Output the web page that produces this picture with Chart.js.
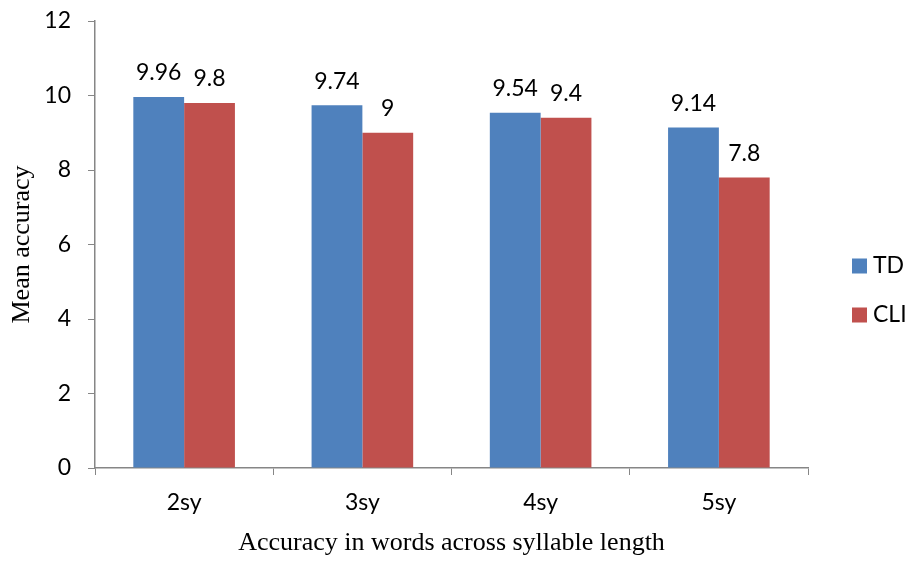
<!DOCTYPE html>
<html>
<head>
<meta charset="utf-8">
<script src="https://cdn.jsdelivr.net/npm/chart.js@4"></script>
<style>
  html, body { margin: 0; padding: 0; background: #fff; }
  #wrap { width: 907px; height: 561px; position: relative; }
</style>
</head>
<body>
<div id="wrap"><canvas id="accChart"></canvas></div>
<script>
// data
const categories = ['2sy', '3sy', '4sy', '5sy'];
const tdValues = [9.96, 9.74, 9.54, 9.14];
const cliValues = [9.8, 9.0, 9.4, 7.8];
const yTicks = [0, 2, 4, 6, 8, 10, 12];

const sansFont = "Lato, 'Open Sans', sans-serif";
const serifFont = "'Liberation Serif', 'DejaVu Serif', serif";
const axisGray = '#868686';
const textSize = 23;

// value labels above each bar
const valueLabels = {
  id: 'valueLabels',
  afterDatasetsDraw(chart) {
    const ctx = chart.ctx;
    ctx.save();
    ctx.font = textSize + 'px ' + sansFont;
    ctx.fillStyle = '#000';
    ctx.textAlign = 'center';
    ctx.textBaseline = 'middle';
    chart.data.datasets.forEach((ds, i) => {
      chart.getDatasetMeta(i).data.forEach((bar, j) => {
        ctx.fillText(String(ds.data[j]), bar.x, bar.y - 24);
      });
    });
    ctx.restore();
  }
};

// legend on the right, like the original
const sideLegend = {
  id: 'sideLegend',
  afterDraw(chart) {
    const ctx = chart.ctx;
    ctx.save();
    ctx.font = textSize + 'px ' + sansFont;
    ctx.textBaseline = 'middle';
    ctx.textAlign = 'left';
    chart.data.datasets.forEach((ds, i) => {
      const cy = 266 + i * 49;
      ctx.fillStyle = ds.backgroundColor;
      ctx.fillRect(852, cy - 7.5, 15, 15);
      ctx.fillStyle = '#000';
      ctx.fillText(ds.label, 873, cy);
    });
    ctx.restore();
  }
};

new Chart(document.getElementById('accChart'), {
  type: 'bar',
  data: {
    labels: categories,
    datasets: [
      { label: 'TD', data: tdValues, backgroundColor: '#4F81BD', barPercentage: 1, categoryPercentage: 0.57 },
      { label: 'CLI', data: cliValues, backgroundColor: '#C0504D', barPercentage: 1, categoryPercentage: 0.57 }
    ]
  },
  options: {
    responsive: true,
    maintainAspectRatio: false,
    animation: false,
    layout: { padding: { top: 21, right: 99, left: 0, bottom: 0 } },
    plugins: { legend: { display: false }, tooltip: { enabled: false } },
    scales: {
      x: {
        afterFit: s => { s.height = 93; },
        grid: { drawOnChartArea: false, drawTicks: true, tickLength: 7, color: axisGray, offset: true },
        border: { color: axisGray, width: 1.5 },
        ticks: { color: '#000', font: { family: sansFont, size: textSize }, padding: 14 },
        title: { display: true, text: 'Accuracy in words across syllable length', color: '#000',
                 font: { family: serifFont, size: 26 }, padding: { top: 0, bottom: 2 } }
      },
      y: {
        min: 0, max: 12,
        afterFit: s => { s.width = 95; s.paddingTop = 0; s.paddingBottom = 0; },
        afterBuildTicks: s => { s.ticks = yTicks.map(v => ({ value: v })); },
        grid: { drawOnChartArea: false, drawTicks: true, tickLength: 7, color: axisGray },
        border: { color: axisGray, width: 1.5 },
        ticks: { color: '#000', font: { family: sansFont, size: textSize }, padding: 17 },
        title: { display: true, text: 'Mean accuracy', color: '#000',
                 font: { family: serifFont, size: 26 }, padding: { top: 7, bottom: 0 } }
      }
    }
  },
  plugins: [valueLabels, sideLegend]
});
</script>
</body>
</html>
